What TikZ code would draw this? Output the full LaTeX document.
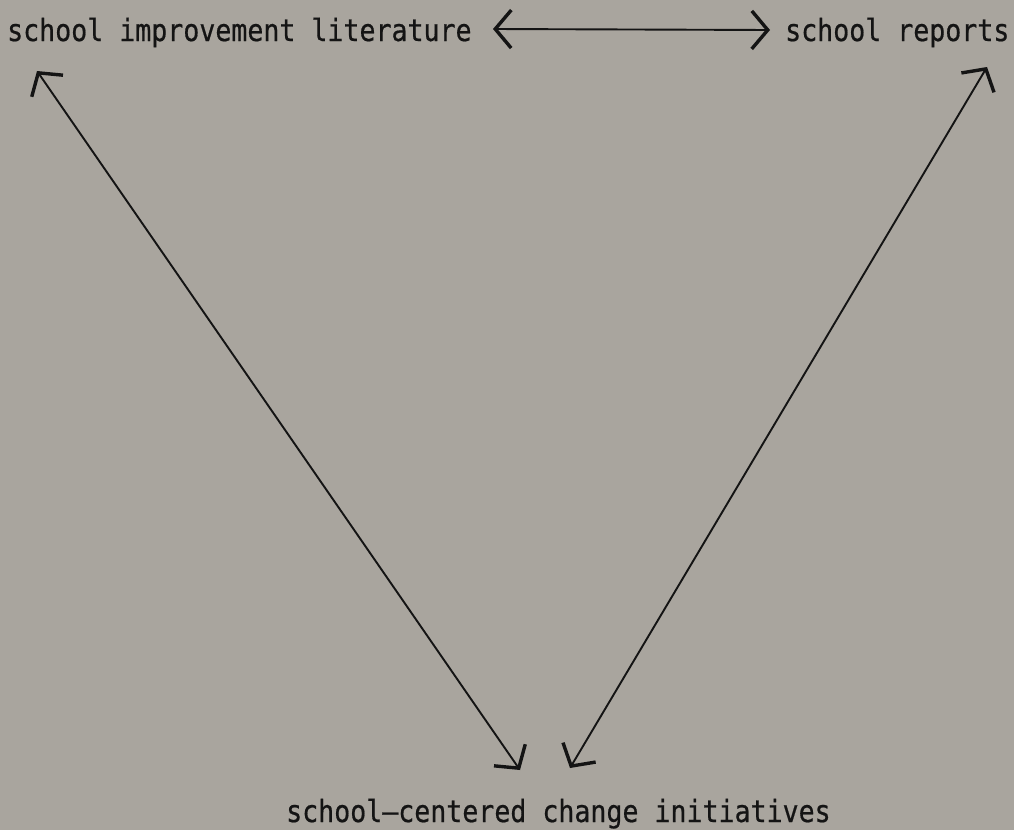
\documentclass[tikz,border=0pt]{standalone}
\usepackage{fontspec}
\newfontfamily\typewr[FakeBold=0.6]{DejaVu Sans Mono}
\usetikzlibrary{arrows.meta}
\definecolor{paper}{RGB}{169,165,158}
\definecolor{ink}{RGB}{20,20,20}
\tikzset{
  lbl/.style={anchor=base west, inner sep=0pt, text=ink, font=\typewr\fontsize{26.6}{30}\selectfont},
  barb/.tip={Straight Barb[length=16pt,width=38pt,line width=3.4pt]},
  link/.style={draw=ink, line width=1.9pt, {barb}-{barb}}
}
\newcommand{\talltxt}[1]{\scalebox{1}[1.15]{#1}}
\begin{document}
\begin{tikzpicture}[x=1pt,y=-1pt]
\fill[paper] (0,0) rectangle (1014,830);
\useasboundingbox (0,0) rectangle (1014,830);
\node[lbl] (lit) at (7,41) {\talltxt{school improvement literature}};
\node[lbl] (rep) at (785,41) {\talltxt{school reports}};
\node[lbl] (chg) at (286,822) {\talltxt{school–centered change initiatives}};
\coordinate (litR) at (493,29);
\coordinate (repL) at (770,30);
\coordinate (litB) at (37,71);
\coordinate (chgL) at (520,770);
\coordinate (repB) at (987,67);
\coordinate (chgR) at (570,768);
\draw[link] (litR) -- (repL);
\draw[link] (litB) -- (chgL);
\draw[link] (repB) -- (chgR);
\end{tikzpicture}
\end{document}
